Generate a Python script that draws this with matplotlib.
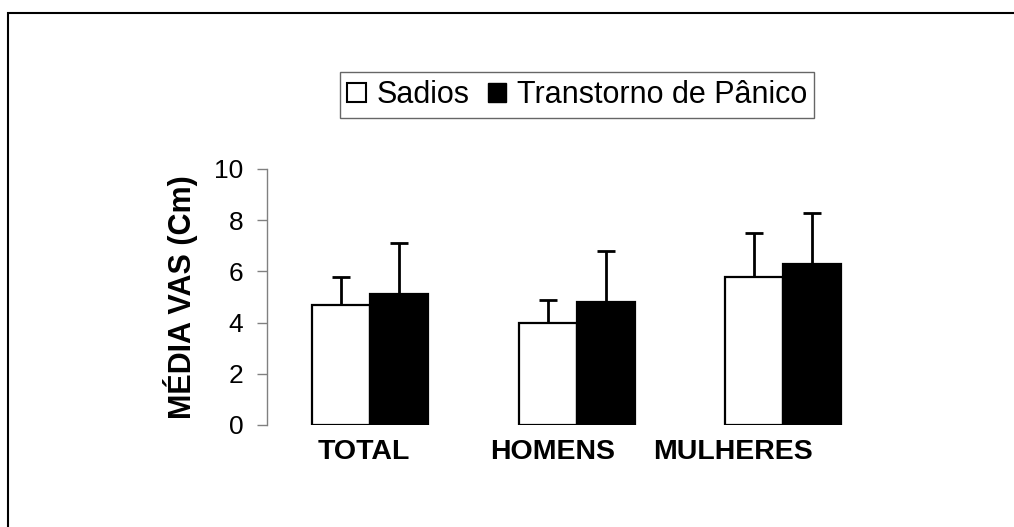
import numpy as np
import matplotlib
matplotlib.use("Agg")
import matplotlib.pyplot as plt
from matplotlib.patches import Patch, Rectangle

plt.rcParams['font.family'] = ['Liberation Sans', 'DejaVu Sans']

# Data
groups = ['TOTAL', 'HOMENS', 'MULHERES']
sadios = [4.7, 4.0, 5.8]
sadios_err = [1.1, 0.9, 1.7]
panico = [5.1, 4.8, 6.3]
panico_err = [2.0, 2.0, 2.0]
yticks = [0, 2, 4, 6, 8, 10]

fig = plt.figure(figsize=(10.14, 5.27), dpi=100)
ax = fig.add_axes([267 / 1014, 102 / 527, 619.5 / 1014, 256 / 527])

x = np.arange(len(groups))
w = 0.281
err_kw = dict(ecolor='black', elinewidth=2, capsize=6.5, capthick=2)
zero = np.zeros(len(groups))

b1 = ax.bar(x - w / 2, sadios, w, color='white', edgecolor='black', linewidth=1.6,
            yerr=[zero, sadios_err], error_kw=err_kw, zorder=3)
b2 = ax.bar(x + w / 2, panico, w, color='black', edgecolor='black', linewidth=1.6,
            yerr=[zero, panico_err], error_kw=err_kw, zorder=3)

# only the upper half of the error bars is shown
for b in (b1, b2):
    caps = b.errorbar.lines[1]
    caps[0].set_visible(False)

ax.set_xlim(-0.5, 2.5)
ax.set_ylim(0, 10)
ax.set_yticks(yticks)
ax.tick_params(axis='y', direction='out', length=7, width=1, color='#808080',
               labelsize=19, pad=10)

# category labels sit a bit left of the bar groups in the original
label_pos = [-0.03, 0.884, 1.758]
ax.set_xticks(label_pos)
ax.set_xticklabels(groups, fontsize=20.5, fontweight='bold')
ax.tick_params(axis='x', length=0, pad=10)

for s in ['top', 'right', 'bottom']:
    ax.spines[s].set_visible(False)
ax.spines['left'].set_color('#808080')
ax.spines['left'].set_linewidth(1)

ax.set_ylabel('MÉDIA VAS (Cm)', fontsize=22, fontweight='bold')
ax.yaxis.set_label_coords(-0.111, 0.5)

handles = [Patch(facecolor='white', edgecolor='black', linewidth=1.5, label='Sadios'),
           Patch(facecolor='black', edgecolor='black', label='Transtorno de Pânico')]
leg = fig.legend(handles=handles, loc='center', bbox_to_anchor=(577 / 1014, 1 - 95 / 527),
                 ncol=2, fontsize=22, frameon=True, fancybox=False, shadow=False,
                 handlelength=0.6, handleheight=0.6, handletextpad=0.35,
                 columnspacing=0.6, borderpad=0.25, borderaxespad=0)
leg.get_frame().set_edgecolor('#404040')
leg.get_frame().set_linewidth(1)

# chart area border (runs off the right and bottom edges)
fig.patches.append(Rectangle((8 / 1014, -0.1), 1.2, 1 - 13 / 527 + 0.1,
                             transform=fig.transFigure, fill=False,
                             edgecolor='black', linewidth=1.5))

fig.savefig('out.png', dpi=100)
